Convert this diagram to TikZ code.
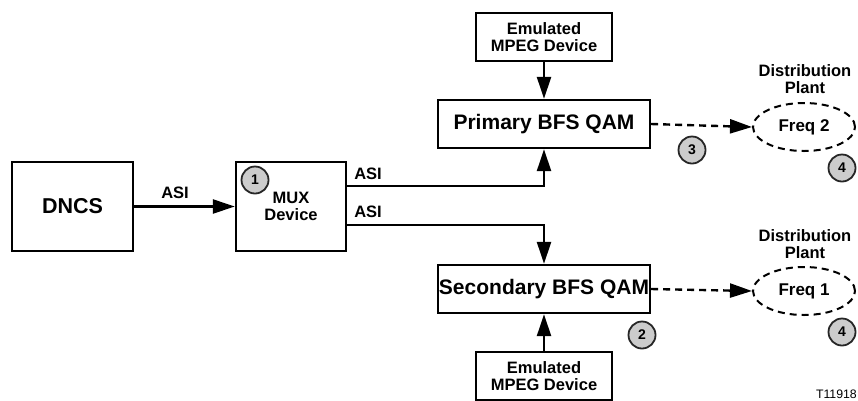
\documentclass[tikz,border=0pt]{standalone}
\usepackage{fontspec}
\setmainfont{Liberation Sans}
\usetikzlibrary{arrows.meta,shapes.geometric}
\begin{document}
\begin{tikzpicture}[x=1pt,y=-1pt,
  box/.style={draw=black,line width=2.4pt,fill=white,inner sep=0pt,font=\bfseries},
  conn/.style={line width=2.4pt,-{Triangle[length=22pt,width=14pt]}},
  dconn/.style={line width=2.4pt,dash pattern=on 7pt off 5pt,-{Triangle[length=22pt,width=14pt]}},
  num/.style={circle,draw=black!85,line width=1.8pt,fill=black!20,minimum size=27pt,inner sep=0pt,font=\bfseries\fontsize{14}{14}\selectfont},
  lbl/.style={font=\bfseries\fontsize{16.5}{17}\selectfont,align=center,inner sep=0pt},
  freq/.style={ellipse,draw=black,line width=2pt,dash pattern=on 7pt off 5pt,minimum width=102pt,minimum height=48pt,inner sep=0pt,font=\bfseries\fontsize{17}{17}\selectfont}
]
\useasboundingbox (0,0) rectangle (858,400);

% boxes
\node[box,minimum width=121pt,minimum height=89pt,font=\bfseries\fontsize{21.5}{24}\selectfont] (dncs) at (72.5,206.5) {DNCS};
\node[box,minimum width=110pt,minimum height=89pt,align=center,font=\bfseries\fontsize{16.5}{17}\selectfont] (mux) at (291,206.5) {MUX\\Device};
\node[box,minimum width=136pt,minimum height=48pt,align=center,font=\bfseries\fontsize{16.5}{17}\selectfont] (emtop) at (544,37) {Emulated\\MPEG Device};
\node[box,minimum width=212pt,minimum height=48pt,font=\bfseries\fontsize{21}{24}\selectfont] (prim) at (544,124) {Primary BFS QAM};
\node[box,minimum width=212pt,minimum height=48pt,font=\bfseries\fontsize{21}{24}\selectfont] (sec) at (544,289) {Secondary BFS QAM};
\node[box,minimum width=136pt,minimum height=48pt,align=center,font=\bfseries\fontsize{16.5}{17}\selectfont] (embot) at (544,376) {Emulated\\MPEG Device};

% distribution plant ellipses
\node[freq] (f2) at (804,127) {Freq 2};
\node[freq] (f1) at (804,291) {Freq 1};

% connectors
\draw[conn] (dncs) -- (mux);
\draw[conn] ([yshift=20.5pt]mux.east) -| (prim.south);
\draw[conn] ([yshift=-18.5pt]mux.east) -| (sec.north);
\draw[conn] (emtop) -- (prim);
\draw[conn] (embot) -- (sec);
\draw[dconn] (prim.east) -- (f2.west);
\draw[dconn] (sec.east) -- (f1.west);

% labels
\node[lbl] (asi1) at (175,193) {ASI};
\node[lbl] (asi2) at (368,174) {ASI};
\node[lbl] (asi3) at (368,212) {ASI};
\node[lbl] (dp1) at (805,79.5) {Distribution\\Plant};
\node[lbl] (dp2) at (805,244.5) {Distribution\\Plant};

% numbered circles
\node[num] (n1) at (255,180) {1};
\node[num] (n2) at (642,335) {2};
\node[num] (n3) at (692,150) {3};
\node[num] (n4a) at (842,168) {4};
\node[num] (n4b) at (842,332) {4};

\node[anchor=east,inner sep=0pt,font=\fontsize{12.3}{13}\selectfont] (tag) at (857,394) {T11918};
\end{tikzpicture}
\end{document}
